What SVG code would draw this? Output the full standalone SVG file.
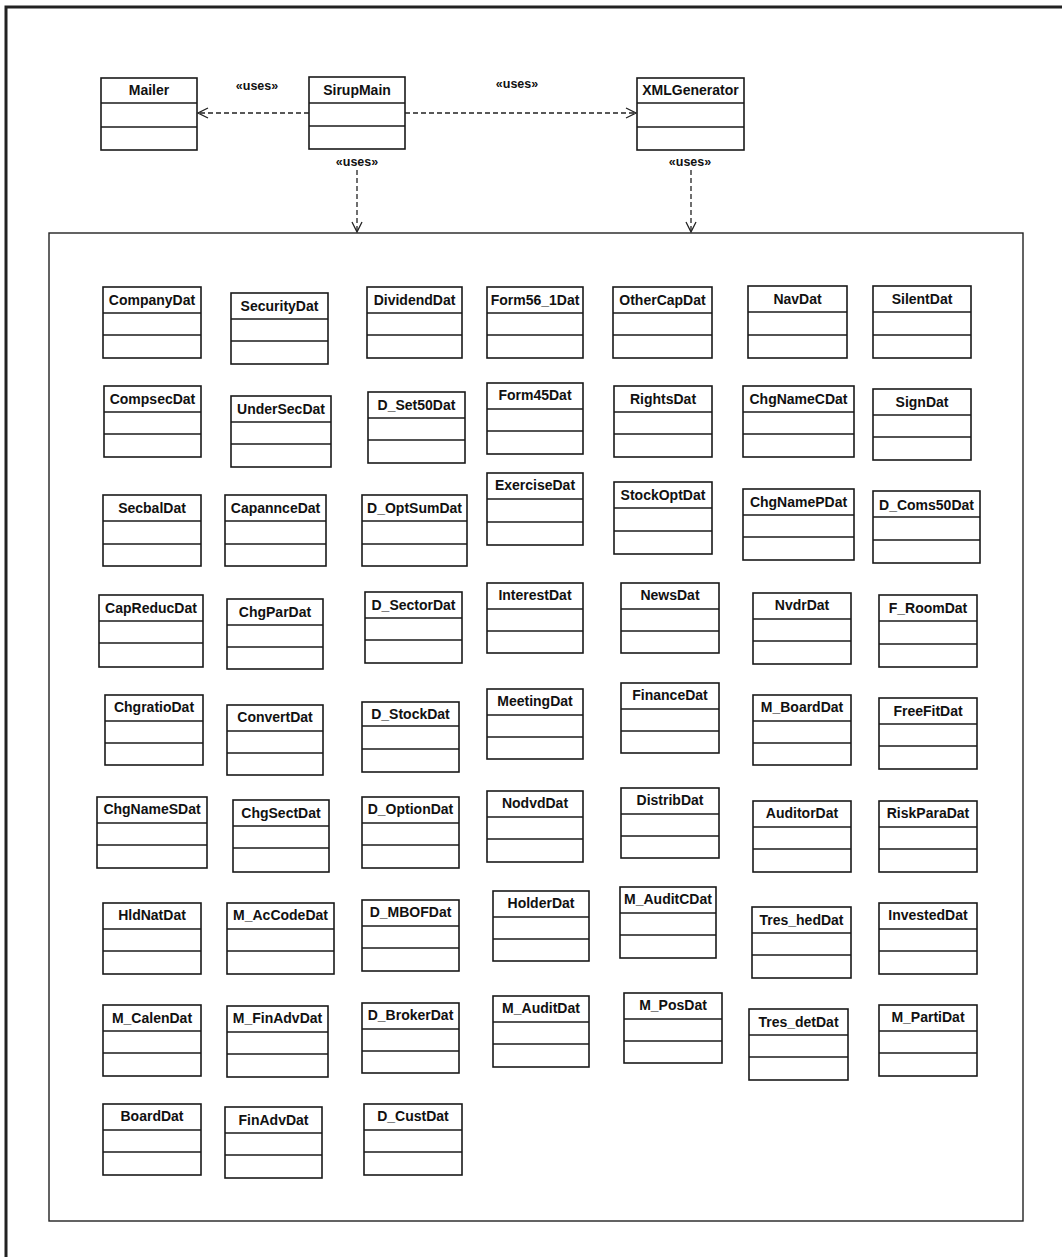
<svg xmlns="http://www.w3.org/2000/svg" width="1062" height="1257" viewBox="0 0 1062 1257">
  <style>
    .frame { fill: none; stroke: #222; }
    .cls rect { fill: #fff; stroke: #1a1a1a; stroke-width: 1.6; }
    .cls line { stroke: #1a1a1a; stroke-width: 1.6; }
    .cls text { font-family: "Liberation Sans", Arial, sans-serif; font-weight: bold; font-size: 14px; fill: #111; text-anchor: middle; }
    .dep { fill: none; stroke: #222; stroke-width: 1.3; stroke-dasharray: 5 3; }
    .lbl { font-family: "Liberation Sans", Arial, sans-serif; font-weight: bold; font-size: 12.5px; fill: #111; text-anchor: middle; }
  </style>
  <defs>
    <marker id="open" viewBox="0 0 12 12" refX="11" refY="6" markerWidth="12" markerHeight="12" markerUnits="userSpaceOnUse" orient="auto">
      <path d="M1,1 L11,6 L1,11" fill="none" stroke="#222" stroke-width="1.3"/>
    </marker>
  </defs>

  <rect width="1062" height="1257" fill="#fff"/>

  <!-- page border (top and left only) -->
  <path class="frame" d="M6,1257 V7 H1062" stroke-width="3"/>

  <!-- package frame holding the data classes -->
  <rect id="data-package" class="frame" x="49" y="233" width="974" height="988" stroke-width="1.4"/>

  <!-- top-level classes -->
  <g id="Mailer" class="cls" transform="translate(101,78)">
    <rect width="96" height="72"/><line x1="0" y1="25" x2="96" y2="25"/><line x1="0" y1="49" x2="96" y2="49"/>
    <text x="48" y="17">Mailer</text>
  </g>
  <g id="SirupMain" class="cls" transform="translate(309,77)">
    <rect width="96" height="72"/><line x1="0" y1="26" x2="96" y2="26"/><line x1="0" y1="49" x2="96" y2="49"/>
    <text x="48" y="18">SirupMain</text>
  </g>
  <g id="XMLGenerator" class="cls" transform="translate(637,78)">
    <rect width="107" height="72"/><line x1="0" y1="25" x2="107" y2="25"/><line x1="0" y1="49" x2="107" y2="49"/>
    <text x="53.5" y="17">XMLGenerator</text>
  </g>

  <!-- «uses» dependencies -->
  <g id="connectors">
    <line class="dep" x1="309" y1="113" x2="198" y2="113" marker-end="url(#open)"/>
    <line class="dep" x1="405" y1="113" x2="636" y2="113" marker-end="url(#open)"/>
    <line class="dep" x1="357" y1="170" x2="357" y2="232" marker-end="url(#open)"/>
    <line class="dep" x1="691" y1="170" x2="691" y2="232" marker-end="url(#open)"/>
    <text class="lbl" x="257" y="90">«uses»</text>
    <text class="lbl" x="517" y="88">«uses»</text>
    <text class="lbl" x="357" y="166">«uses»</text>
    <text class="lbl" x="690" y="166">«uses»</text>
  </g>

  <!-- data classes: header + two empty compartments -->
  <g id="CompanyDat" class="cls" transform="translate(103,287)"><rect width="98" height="71"/><line x1="0" y1="26" x2="98" y2="26"/><line x1="0" y1="48" x2="98" y2="48"/><text x="49" y="18">CompanyDat</text></g>
  <g id="SecurityDat" class="cls" transform="translate(231,293)"><rect width="97" height="71"/><line x1="0" y1="26" x2="97" y2="26"/><line x1="0" y1="48" x2="97" y2="48"/><text x="48.5" y="18">SecurityDat</text></g>
  <g id="DividendDat" class="cls" transform="translate(367,287)"><rect width="95" height="71"/><line x1="0" y1="26" x2="95" y2="26"/><line x1="0" y1="48" x2="95" y2="48"/><text x="47.5" y="18">DividendDat</text></g>
  <g id="Form56_1Dat" class="cls" transform="translate(487,287)"><rect width="96" height="71"/><line x1="0" y1="26" x2="96" y2="26"/><line x1="0" y1="48" x2="96" y2="48"/><text x="48" y="18">Form56_1Dat</text></g>
  <g id="OtherCapDat" class="cls" transform="translate(613,287)"><rect width="99" height="71"/><line x1="0" y1="26" x2="99" y2="26"/><line x1="0" y1="48" x2="99" y2="48"/><text x="49.5" y="18">OtherCapDat</text></g>
  <g id="NavDat" class="cls" transform="translate(748,286)"><rect width="99" height="72"/><line x1="0" y1="26" x2="99" y2="26"/><line x1="0" y1="49" x2="99" y2="49"/><text x="49.5" y="18">NavDat</text></g>
  <g id="SilentDat" class="cls" transform="translate(873,286)"><rect width="98" height="72"/><line x1="0" y1="26" x2="98" y2="26"/><line x1="0" y1="49" x2="98" y2="49"/><text x="49" y="18">SilentDat</text></g>

  <g id="CompsecDat" class="cls" transform="translate(104,386)"><rect width="97" height="71"/><line x1="0" y1="26" x2="97" y2="26"/><line x1="0" y1="48" x2="97" y2="48"/><text x="48.5" y="18">CompsecDat</text></g>
  <g id="UnderSecDat" class="cls" transform="translate(231,396)"><rect width="100" height="71"/><line x1="0" y1="26" x2="100" y2="26"/><line x1="0" y1="48" x2="100" y2="48"/><text x="50" y="18">UnderSecDat</text></g>
  <g id="D_Set50Dat" class="cls" transform="translate(368,392)"><rect width="97" height="71"/><line x1="0" y1="26" x2="97" y2="26"/><line x1="0" y1="48" x2="97" y2="48"/><text x="48.5" y="18">D_Set50Dat</text></g>
  <g id="Form45Dat" class="cls" transform="translate(487,383)"><rect width="96" height="71"/><line x1="0" y1="26" x2="96" y2="26"/><line x1="0" y1="48" x2="96" y2="48"/><text x="48" y="17">Form45Dat</text></g>
  <g id="RightsDat" class="cls" transform="translate(614,386)"><rect width="98" height="71"/><line x1="0" y1="26" x2="98" y2="26"/><line x1="0" y1="48" x2="98" y2="48"/><text x="49" y="18">RightsDat</text></g>
  <g id="ChgNameCDat" class="cls" transform="translate(743,386)"><rect width="111" height="71"/><line x1="0" y1="26" x2="111" y2="26"/><line x1="0" y1="48" x2="111" y2="48"/><text x="55.5" y="18">ChgNameCDat</text></g>
  <g id="SignDat" class="cls" transform="translate(873,389)"><rect width="98" height="71"/><line x1="0" y1="26" x2="98" y2="26"/><line x1="0" y1="48" x2="98" y2="48"/><text x="49" y="18">SignDat</text></g>

  <g id="SecbalDat" class="cls" transform="translate(103,495)"><rect width="98" height="71"/><line x1="0" y1="26" x2="98" y2="26"/><line x1="0" y1="49" x2="98" y2="49"/><text x="49" y="18">SecbalDat</text></g>
  <g id="CapannceDat" class="cls" transform="translate(225,495)"><rect width="101" height="71"/><line x1="0" y1="26" x2="101" y2="26"/><line x1="0" y1="49" x2="101" y2="49"/><text x="50.5" y="18">CapannceDat</text></g>
  <g id="D_OptSumDat" class="cls" transform="translate(362,495)"><rect width="105" height="71"/><line x1="0" y1="26" x2="105" y2="26"/><line x1="0" y1="49" x2="105" y2="49"/><text x="52.5" y="18">D_OptSumDat</text></g>
  <g id="ExerciseDat" class="cls" transform="translate(487,473)"><rect width="96" height="72"/><line x1="0" y1="26" x2="96" y2="26"/><line x1="0" y1="49" x2="96" y2="49"/><text x="48" y="17">ExerciseDat</text></g>
  <g id="StockOptDat" class="cls" transform="translate(614,482)"><rect width="98" height="72"/><line x1="0" y1="26" x2="98" y2="26"/><line x1="0" y1="49" x2="98" y2="49"/><text x="49" y="18">StockOptDat</text></g>
  <g id="ChgNamePDat" class="cls" transform="translate(743,489)"><rect width="111" height="71"/><line x1="0" y1="26" x2="111" y2="26"/><line x1="0" y1="48" x2="111" y2="48"/><text x="55.5" y="18">ChgNamePDat</text></g>
  <g id="D_Coms50Dat" class="cls" transform="translate(873,491)"><rect width="107" height="72"/><line x1="0" y1="26" x2="107" y2="26"/><line x1="0" y1="49" x2="107" y2="49"/><text x="53.5" y="19">D_Coms50Dat</text></g>

  <g id="CapReducDat" class="cls" transform="translate(99,595)"><rect width="104" height="72"/><line x1="0" y1="26" x2="104" y2="26"/><line x1="0" y1="48" x2="104" y2="48"/><text x="52" y="18">CapReducDat</text></g>
  <g id="ChgParDat" class="cls" transform="translate(227,599)"><rect width="96" height="70"/><line x1="0" y1="26" x2="96" y2="26"/><line x1="0" y1="48" x2="96" y2="48"/><text x="48" y="18">ChgParDat</text></g>
  <g id="D_SectorDat" class="cls" transform="translate(365,592)"><rect width="97" height="71"/><line x1="0" y1="26" x2="97" y2="26"/><line x1="0" y1="48" x2="97" y2="48"/><text x="48.5" y="18">D_SectorDat</text></g>
  <g id="InterestDat" class="cls" transform="translate(487,583)"><rect width="96" height="70"/><line x1="0" y1="26" x2="96" y2="26"/><line x1="0" y1="48" x2="96" y2="48"/><text x="48" y="17">InterestDat</text></g>
  <g id="NewsDat" class="cls" transform="translate(621,583)"><rect width="98" height="70"/><line x1="0" y1="26" x2="98" y2="26"/><line x1="0" y1="48" x2="98" y2="48"/><text x="49" y="17">NewsDat</text></g>
  <g id="NvdrDat" class="cls" transform="translate(753,593)"><rect width="98" height="71"/><line x1="0" y1="26" x2="98" y2="26"/><line x1="0" y1="48" x2="98" y2="48"/><text x="49" y="17">NvdrDat</text></g>
  <g id="F_RoomDat" class="cls" transform="translate(879,595)"><rect width="98" height="72"/><line x1="0" y1="26" x2="98" y2="26"/><line x1="0" y1="49" x2="98" y2="49"/><text x="49" y="18">F_RoomDat</text></g>

  <g id="ChgratioDat" class="cls" transform="translate(105,695)"><rect width="98" height="70"/><line x1="0" y1="26" x2="98" y2="26"/><line x1="0" y1="48" x2="98" y2="48"/><text x="49" y="17">ChgratioDat</text></g>
  <g id="ConvertDat" class="cls" transform="translate(227,705)"><rect width="96" height="70"/><line x1="0" y1="26" x2="96" y2="26"/><line x1="0" y1="48" x2="96" y2="48"/><text x="48" y="17">ConvertDat</text></g>
  <g id="D_StockDat" class="cls" transform="translate(362,702)"><rect width="97" height="70"/><line x1="0" y1="24" x2="97" y2="24"/><line x1="0" y1="47" x2="97" y2="47"/><text x="48.5" y="17">D_StockDat</text></g>
  <g id="MeetingDat" class="cls" transform="translate(487,689)"><rect width="96" height="70"/><line x1="0" y1="26" x2="96" y2="26"/><line x1="0" y1="48" x2="96" y2="48"/><text x="48" y="17">MeetingDat</text></g>
  <g id="FinanceDat" class="cls" transform="translate(621,683)"><rect width="98" height="70"/><line x1="0" y1="26" x2="98" y2="26"/><line x1="0" y1="48" x2="98" y2="48"/><text x="49" y="17">FinanceDat</text></g>
  <g id="M_BoardDat" class="cls" transform="translate(753,695)"><rect width="98" height="70"/><line x1="0" y1="26" x2="98" y2="26"/><line x1="0" y1="48" x2="98" y2="48"/><text x="49" y="17">M_BoardDat</text></g>
  <g id="FreeFitDat" class="cls" transform="translate(879,698)"><rect width="98" height="71"/><line x1="0" y1="26" x2="98" y2="26"/><line x1="0" y1="48" x2="98" y2="48"/><text x="49" y="18">FreeFitDat</text></g>

  <g id="ChgNameSDat" class="cls" transform="translate(97,797)"><rect width="110" height="71"/><line x1="0" y1="26" x2="110" y2="26"/><line x1="0" y1="48" x2="110" y2="48"/><text x="55" y="17">ChgNameSDat</text></g>
  <g id="ChgSectDat" class="cls" transform="translate(233,800)"><rect width="96" height="72"/><line x1="0" y1="26" x2="96" y2="26"/><line x1="0" y1="48" x2="96" y2="48"/><text x="48" y="18">ChgSectDat</text></g>
  <g id="D_OptionDat" class="cls" transform="translate(362,797)"><rect width="97" height="71"/><line x1="0" y1="26" x2="97" y2="26"/><line x1="0" y1="48" x2="97" y2="48"/><text x="48.5" y="17">D_OptionDat</text></g>
  <g id="NodvdDat" class="cls" transform="translate(487,791)"><rect width="96" height="71"/><line x1="0" y1="26" x2="96" y2="26"/><line x1="0" y1="48" x2="96" y2="48"/><text x="48" y="17">NodvdDat</text></g>
  <g id="DistribDat" class="cls" transform="translate(621,788)"><rect width="98" height="70"/><line x1="0" y1="26" x2="98" y2="26"/><line x1="0" y1="48" x2="98" y2="48"/><text x="49" y="17">DistribDat</text></g>
  <g id="AuditorDat" class="cls" transform="translate(753,801)"><rect width="98" height="71"/><line x1="0" y1="26" x2="98" y2="26"/><line x1="0" y1="48" x2="98" y2="48"/><text x="49" y="17">AuditorDat</text></g>
  <g id="RiskParaDat" class="cls" transform="translate(879,801)"><rect width="98" height="71"/><line x1="0" y1="26" x2="98" y2="26"/><line x1="0" y1="48" x2="98" y2="48"/><text x="49" y="17">RiskParaDat</text></g>

  <g id="HldNatDat" class="cls" transform="translate(103,903)"><rect width="98" height="71"/><line x1="0" y1="26" x2="98" y2="26"/><line x1="0" y1="48" x2="98" y2="48"/><text x="49" y="17">HldNatDat</text></g>
  <g id="M_AcCodeDat" class="cls" transform="translate(227,903)"><rect width="107" height="71"/><line x1="0" y1="26" x2="107" y2="26"/><line x1="0" y1="48" x2="107" y2="48"/><text x="53.5" y="17">M_AcCodeDat</text></g>
  <g id="D_MBOFDat" class="cls" transform="translate(362,900)"><rect width="97" height="71"/><line x1="0" y1="26" x2="97" y2="26"/><line x1="0" y1="48" x2="97" y2="48"/><text x="48.5" y="17">D_MBOFDat</text></g>
  <g id="HolderDat" class="cls" transform="translate(493,891)"><rect width="96" height="70"/><line x1="0" y1="26" x2="96" y2="26"/><line x1="0" y1="48" x2="96" y2="48"/><text x="48" y="17">HolderDat</text></g>
  <g id="M_AuditCDat" class="cls" transform="translate(620,887)"><rect width="96" height="71"/><line x1="0" y1="26" x2="96" y2="26"/><line x1="0" y1="48" x2="96" y2="48"/><text x="48" y="17">M_AuditCDat</text></g>
  <g id="Tres_hedDat" class="cls" transform="translate(752,907)"><rect width="99" height="71"/><line x1="0" y1="26" x2="99" y2="26"/><line x1="0" y1="48" x2="99" y2="48"/><text x="49.5" y="18">Tres_hedDat</text></g>
  <g id="InvestedDat" class="cls" transform="translate(879,903)"><rect width="98" height="71"/><line x1="0" y1="26" x2="98" y2="26"/><line x1="0" y1="48" x2="98" y2="48"/><text x="49" y="17">InvestedDat</text></g>

  <g id="M_CalenDat" class="cls" transform="translate(103,1005)"><rect width="98" height="71"/><line x1="0" y1="26" x2="98" y2="26"/><line x1="0" y1="48" x2="98" y2="48"/><text x="49" y="18">M_CalenDat</text></g>
  <g id="M_FinAdvDat" class="cls" transform="translate(227,1006)"><rect width="101" height="71"/><line x1="0" y1="26" x2="101" y2="26"/><line x1="0" y1="48" x2="101" y2="48"/><text x="50.5" y="17">M_FinAdvDat</text></g>
  <g id="D_BrokerDat" class="cls" transform="translate(362,1003)"><rect width="97" height="70"/><line x1="0" y1="26" x2="97" y2="26"/><line x1="0" y1="48" x2="97" y2="48"/><text x="48.5" y="17">D_BrokerDat</text></g>
  <g id="M_AuditDat" class="cls" transform="translate(493,996)"><rect width="96" height="71"/><line x1="0" y1="26" x2="96" y2="26"/><line x1="0" y1="48" x2="96" y2="48"/><text x="48" y="17">M_AuditDat</text></g>
  <g id="M_PosDat" class="cls" transform="translate(624,993)"><rect width="98" height="70"/><line x1="0" y1="26" x2="98" y2="26"/><line x1="0" y1="48" x2="98" y2="48"/><text x="49" y="17">M_PosDat</text></g>
  <g id="Tres_detDat" class="cls" transform="translate(749,1009)"><rect width="99" height="71"/><line x1="0" y1="26" x2="99" y2="26"/><line x1="0" y1="48" x2="99" y2="48"/><text x="49.5" y="18">Tres_detDat</text></g>
  <g id="M_PartiDat" class="cls" transform="translate(879,1005)"><rect width="98" height="71"/><line x1="0" y1="26" x2="98" y2="26"/><line x1="0" y1="48" x2="98" y2="48"/><text x="49" y="17">M_PartiDat</text></g>

  <g id="BoardDat" class="cls" transform="translate(103,1104)"><rect width="98" height="71"/><line x1="0" y1="26" x2="98" y2="26"/><line x1="0" y1="48" x2="98" y2="48"/><text x="49" y="17">BoardDat</text></g>
  <g id="FinAdvDat" class="cls" transform="translate(225,1107)"><rect width="97" height="71"/><line x1="0" y1="26" x2="97" y2="26"/><line x1="0" y1="48" x2="97" y2="48"/><text x="48.5" y="18">FinAdvDat</text></g>
  <g id="D_CustDat" class="cls" transform="translate(364,1104)"><rect width="98" height="71"/><line x1="0" y1="26" x2="98" y2="26"/><line x1="0" y1="48" x2="98" y2="48"/><text x="49" y="17">D_CustDat</text></g>
</svg>
